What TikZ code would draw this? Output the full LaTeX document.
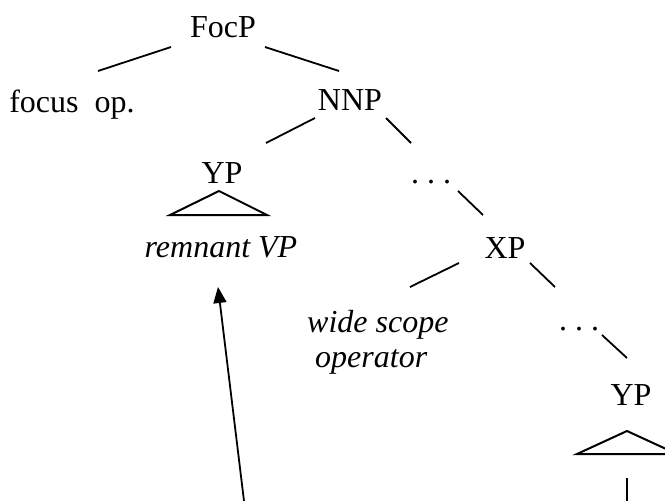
\documentclass[tikz,border=0pt]{standalone}
\usepackage{fontspec}
\setmainfont{Liberation Serif}
\usetikzlibrary{arrows.meta}
\begin{document}
\begin{tikzpicture}[x=1pt,y=-1pt,
  lbl/.style={inner sep=0pt, anchor=base, font=\fontsize{32}{36}\selectfont},
  lblw/.style={inner sep=0pt, anchor=base west, font=\fontsize{32}{36}\selectfont\itshape},
  branch/.style={line width=1.8pt},
  tri/.style={line width=2pt, line join=miter},
  move/.style={line width=1.8pt, -{Triangle[length=16pt,width=13pt]}}]
\useasboundingbox (0,0) rectangle (665,501);
% nodes
\node[lbl] (focp) at (223,37) {FocP};
\node[lbl] (focus) at (72,112) {focus\ \ op.};
\node[lbl] (nnp) at (350,110) {NNP};
\node[lbl] (yp1) at (222,183) {YP};
\node[lbl] (dots1) at (431,183) {.\ .\ .};
\node[lbl,font=\fontsize{32}{36}\selectfont\itshape] (rem) at (221,257) {remnant VP};
\node[lbl] (xp) at (505,258) {XP};
\node[lblw] (wide) at (307,332) {wide scope};
\node[lblw] (oper) at (315,367) {operator};
\node[lbl] (dots2) at (579,330) {.\ .\ .};
\node[lbl] (yp2) at (631,405) {YP};
\coordinate (src) at (244,501);
\coordinate (bot) at (627,501);
% branches
\draw[branch] ([shift={(-52,10)}]focp.base) -- ([shift={(26,-41)}]focus.base);
\draw[branch] ([shift={(42,10)}]focp.base) -- ([shift={(-11,-39)}]nnp.base);
\draw[branch] ([shift={(-35,8)}]nnp.base) -- ([shift={(44,-40)}]yp1.base);
\draw[branch] ([shift={(36,8)}]nnp.base) -- ([shift={(-20,-40)}]dots1.base);
\draw[branch] ([shift={(27,8)}]dots1.base) -- ([shift={(-22,-43)}]xp.base);
\draw[branch] ([shift={(-46,5)}]xp.base) -- ([shift={(103,-45)}]wide.base west);
\draw[branch] ([shift={(25,5)}]xp.base) -- ([shift={(-24,-43)}]dots2.base);
\draw[branch] ([shift={(23,5)}]dots2.base) -- ([shift={(-4,-47)}]yp2.base);
% triangles
\draw[tri] ([shift={(-3,8)}]yp1.base) -- ([shift={(-52,32)}]yp1.base) -- ([shift={(45,32)}]yp1.base) -- cycle;
\draw[tri] ([shift={(-4,26)}]yp2.base) -- ([shift={(-54,49)}]yp2.base) -- ([shift={(46,49)}]yp2.base) -- cycle;
\draw[branch] ([shift={(-4,73)}]yp2.base) -- (bot);
% movement arrow
\draw[move] (src) -- ([shift={(-3,30)}]rem.base);
\end{tikzpicture}
\end{document}
